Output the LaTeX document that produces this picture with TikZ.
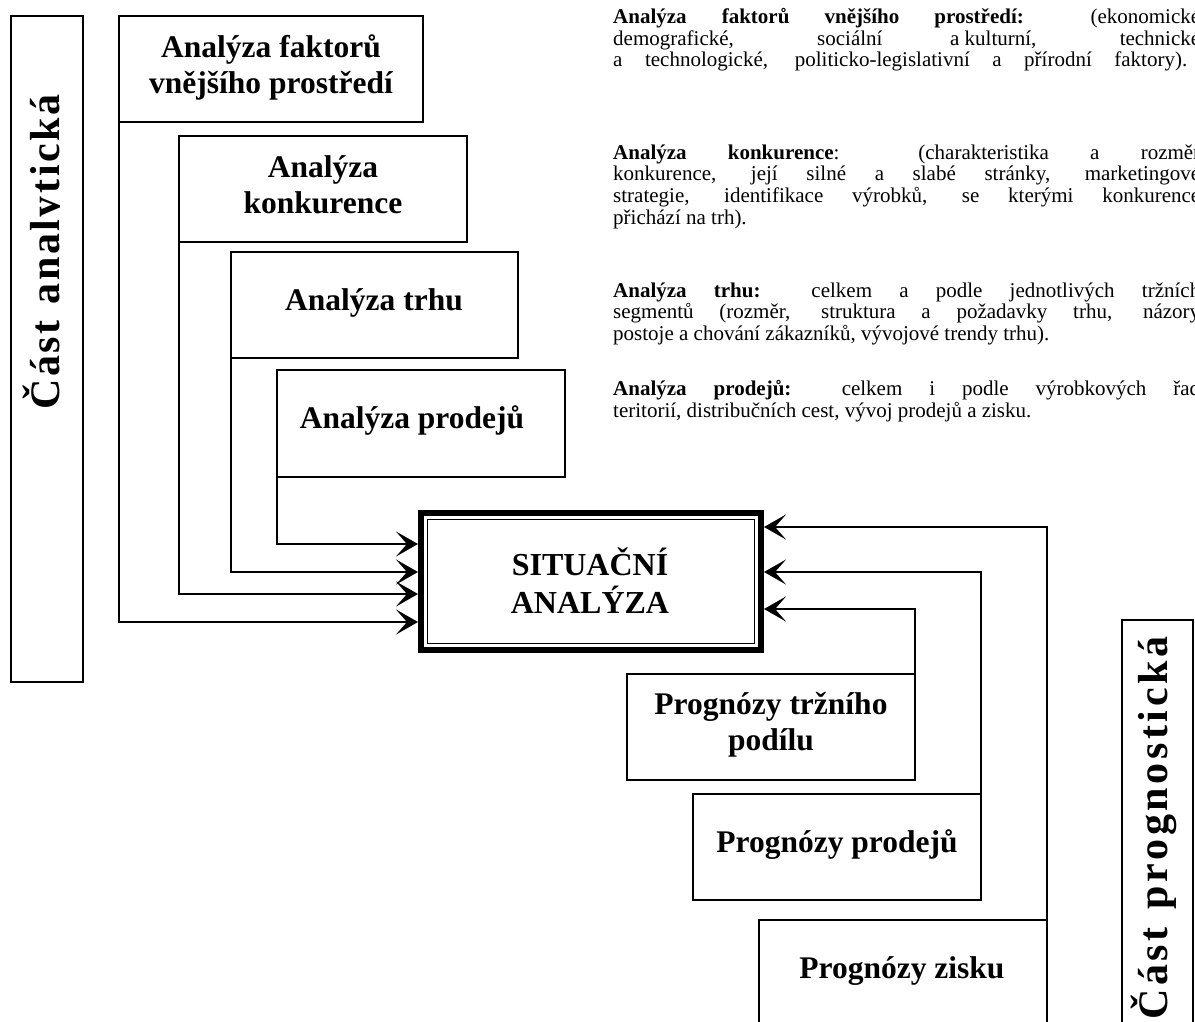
\documentclass[tikz,border=0pt]{standalone}
\usepackage{fontspec}
\setmainfont{Liberation Serif}
\usetikzlibrary{arrows.meta}

\tikzset{
  frame/.style={draw, line width=2pt, outer sep=0pt, inner sep=0pt},
  conn/.style={line width=2pt, -{Stealth[length=22pt,width=25pt,inset=11pt]}},
  boxtext/.style={font=\fontsize{31.5}{36}\selectfont\bfseries, inner sep=0pt, anchor=base},
  sidetext/.style={font=\fontsize{42}{48}\selectfont\bfseries, inner sep=0pt, anchor=base, rotate=90},
  paratext/.style={font=\fontsize{21}{22}\selectfont, inner sep=0pt, anchor=base west},
}
% justified line of the description column
\newcommand\jline[2][587pt]{\makebox[#1][s]{#2}}

\begin{document}
\begin{tikzpicture}[x=1pt,y=-1pt]
\useasboundingbox (0,0) rectangle (1195,1021);

% side frames
\node[frame, minimum width=72, minimum height=666] (left) at (47,349) {};
\node[frame, minimum width=71, minimum height=410] (right) at (1157.5,825) {};
\begin{scope}
  \clip (0,0) rectangle (59.5,700);
  \node[sidetext] (lefttxt) at (59,252)
    {\hbox to 315pt{Č\hfill á\hfill s\hfill t\hfill\ \hfill a\hfill n\hfill a\hfill l\hfill y\hfill t\hfill i\hfill c\hfill k\hfill á}};
\end{scope}
\node[sidetext] (righttxt) at (1167,828)
  {\hbox to 383pt{Č\hfill á\hfill s\hfill t\hfill\ \hfill p\hfill r\hfill o\hfill g\hfill n\hfill o\hfill s\hfill t\hfill i\hfill c\hfill k\hfill á}};

% analytical boxes
\node[frame, minimum width=304, minimum height=106] (f1) at (271,69) {};
\node[frame, minimum width=288, minimum height=106] (f2) at (323,189) {};
\node[frame, minimum width=287, minimum height=106] (f3) at (374.5,305) {};
\node[frame, minimum width=288, minimum height=107] (f4) at (421,423.5) {};
\node[boxtext] (f1a) at (271,57) {Analýza faktorů};
\node[boxtext] (f1b) at (271,93) {vnějšího prostředí};
\node[boxtext] (f2a) at (323,177) {Analýza};
\node[boxtext] (f2b) at (323,213) {konkurence};
\node[boxtext] (f3a) at (374,310) {Analýza trhu};
\node[boxtext] (f4a) at (412,428) {Analýza prodejů};

% central box
\node[draw, line width=6pt, minimum width=340, minimum height=137, inner sep=0pt] (sa) at (591,581.5) {};
\draw[line width=1.5pt] ([shift={(9.5,9.5)}]sa.north west) rectangle ([shift={(-9.5,-9.5)}]sa.south east);
\node[boxtext, font=\fontsize{32}{38}\selectfont\bfseries] (saa) at (590,575) {SITUAČNÍ};
\node[boxtext, font=\fontsize{32}{38}\selectfont\bfseries] (sab) at (590,613) {ANALÝZA};

% prognostic boxes
\node[frame, minimum width=288, minimum height=106] (p1) at (771,727) {};
\node[frame, minimum width=288, minimum height=106] (p2) at (837,847) {};
\node[frame, minimum width=288, minimum height=106] (p3) at (903,973) {};
\node[boxtext] (p1a) at (771,714) {Prognózy tržního};
\node[boxtext] (p1b) at (771,750) {podílu};
\node[boxtext] (p2a) at (837,852) {Prognózy prodejů};
\node[boxtext] (p3a) at (902,978) {Prognózy zisku};

% connectors into the central box
\draw[conn] (f1.south west) |- (sa.west |- 0,622);
\draw[conn] (f2.south west) |- (sa.west |- 0,594);
\draw[conn] (f3.south west) |- (sa.west |- 0,572);
\draw[conn] (f4.south west) |- (sa.west |- 0,544);
\draw[conn] (p1.north east) |- (sa.east |- 0,609);
\draw[conn] (p2.north east) |- (sa.east |- 0,572);
\draw[conn] (p3.north east) |- (sa.east |- 0,527);

% description column
\node[paratext] (t1a) at (613,23) {\jline{\textbf{Analýza faktorů vnějšího prostředí:} (ekonomické}};
\node[paratext] (t1b) at (613,45) {\jline{demografické, sociální a\hspace{0.25em}kulturní, technické}};
\node[paratext] (t1c) at (613,66.5) {\jline[574pt]{a technologické, politicko-legislativní a přírodní faktory).}};

\node[paratext] (t2a) at (613,159) {\jline{\textbf{Analýza konkurence}: (charakteristika a rozměr}};
\node[paratext] (t2b) at (613,180.7) {\jline{konkurence, její silné a slabé stránky, marketingové}};
\node[paratext] (t2c) at (613,202.4) {\jline{strategie, identifikace výrobků, se kterými konkurence}};
\node[paratext] (t2d) at (613,224) {přichází na trh).};

\node[paratext] (t3a) at (613,297) {\jline{\textbf{Analýza trhu:} celkem a podle jednotlivých tržních}};
\node[paratext] (t3b) at (613,318.5) {\jline{segmentů (rozměr, struktura a požadavky trhu, názory}};
\node[paratext] (t3c) at (613,340) {postoje a chování zákazníků, vývojové trendy trhu).};

\node[paratext] (t4a) at (613,395) {\jline{\textbf{Analýza prodejů:} celkem i podle výrobkových řad}};
\node[paratext] (t4b) at (613,417) {teritorií, distribučních cest, vývoj prodejů a zisku.};
\end{tikzpicture}
\end{document}
